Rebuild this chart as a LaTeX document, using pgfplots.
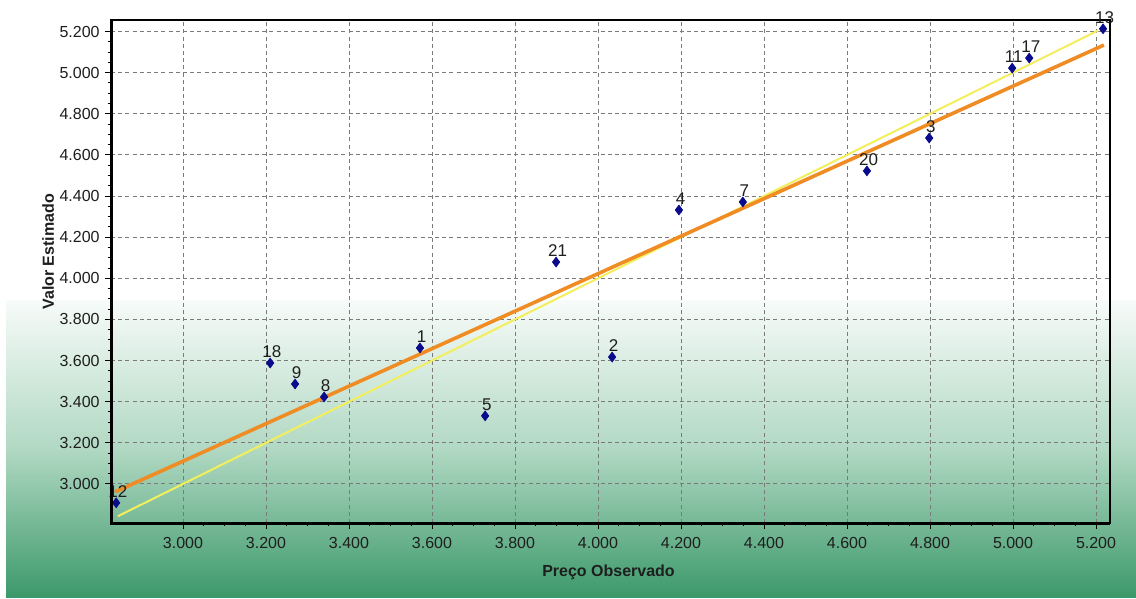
\documentclass[border=0pt]{standalone}
\usepackage{pgfplots}
\pgfplotsset{compat=1.18}
\usepackage{fontspec}
\setmainfont{Liberation Sans}
\definecolor{bgtop}{HTML}{F7FBF9}
\definecolor{bgmid}{HTML}{B0D8C2}
\definecolor{bgbot}{HTML}{3C996A}
\definecolor{ptblue}{HTML}{0A0A8C}
\definecolor{regorange}{HTML}{EF8C24}
\definecolor{idyellow}{HTML}{F3EF5C}
\definecolor{gridgray}{HTML}{7A7A7A}
\definecolor{txt}{HTML}{1E1E1E}
\begin{document}
\begin{tikzpicture}
\begin{scope}[x=0.5pt,y=-0.5pt]
\fill[white] (0,0) rectangle (1136,599);
\shade[top color=bgtop, bottom color=bgmid] (6,300) rectangle (1136,451);
\shade[top color=bgmid, bottom color=bgbot] (6,450) rectangle (1136,597);
\end{scope}
\begin{axis}[
  at={(55.5pt,-261.5pt)}, anchor=south west,
  scale only axis, width=499.5pt, height=251.5pt,
  xmin=2.8265, xmax=5.2337, ymin=2.810, ymax=5.256,
  xtick={3.0,3.2,...,5.21}, ytick={3.0,3.2,...,5.21},
  minor tick num=3,
  tick align=outside, xtick pos=bottom, ytick pos=left,
  major tick length=3pt, minor tick length=1.5pt,
  tick style={black, line width=0.5pt},
  grid=major,
  major grid style={gridgray, dash pattern=on 2pt off 1.6pt, line width=0.5pt},
  axis line style={black, line width=0.75pt},
  /pgf/number format/.cd, fixed, fixed zerofill, precision=3, assume math mode=true,
  /pgfplots/.cd,
  tick label style={font=\fontsize{8}{9}\selectfont, text=txt},
  xticklabel style={inner sep=0pt, anchor=north, yshift=-4pt},
  yticklabel style={inner sep=0pt, anchor=east, xshift=-2.5pt},
  xlabel={\textbf{Preço Observado}},
  ylabel={\textbf{Valor Estimado}},
  label style={font=\fontsize{8}{9}\selectfont, text=txt},
  xlabel style={at={(axis description cs:0.498,0)}, anchor=center, yshift=-24.5pt},
  ylabel style={at={(axis description cs:-0.063,0.539)}, anchor=center, rotate=0},
  clip=false,
  after end axis/.code={
    \draw[black, line width=1.5pt] (rel axis cs:0,1) -- (rel axis cs:0,0) -- (rel axis cs:1,0);
  },
]
\addplot[idyellow, line width=1pt] coordinates {(2.843,2.843) (5.205,5.205)};
\addplot[regorange, line width=1.8pt] coordinates {(2.836,2.961) (5.219,5.134)};
\addplot[only marks, mark=diamond*, mark size=2.4pt, mark options={fill=ptblue, draw=ptblue},
  point meta=explicit symbolic,
  nodes near coords,
  nodes near coords style={anchor=south, inner sep=0pt, yshift=2.6pt, xshift=0.8pt,
    font=\fontsize{8.5}{9}\selectfont, text=txt}]
table[meta=lab] {
x y lab
2.839 2.908 12
3.210 3.588 18
3.270 3.486 9
3.340 3.423 8
3.571 3.661 1
3.728 3.331 5
3.899 4.079 21
4.034 3.617 2
4.195 4.332 4
4.349 4.371 7
4.648 4.522 20
4.798 4.682 3
4.998 5.022 11
5.039 5.071 17
5.217 5.213 13
};
\end{axis}
\end{tikzpicture}
\end{document}
